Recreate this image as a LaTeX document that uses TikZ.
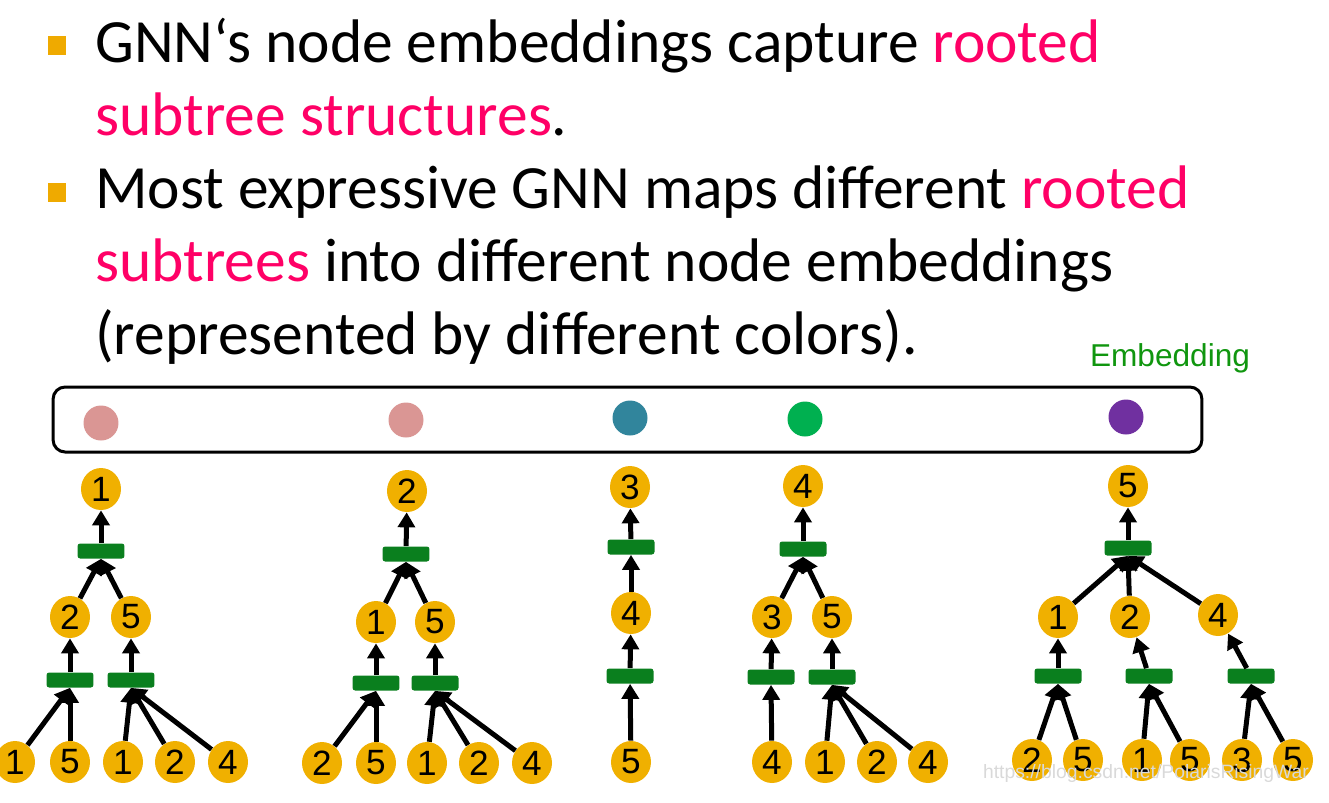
\documentclass[tikz,border=0pt]{standalone}
\usepackage{fontspec}
\setmainfont{Carlito}
\newfontfamily\arialfont{Liberation Sans}
\usetikzlibrary{arrows.meta, positioning, shapes.geometric}
\definecolor{gold}{HTML}{F0B000}
\definecolor{aggreen}{HTML}{0A7F1E}
\definecolor{hotpink}{HTML}{FF0066}
\definecolor{bulletc}{HTML}{EFAA00}
\definecolor{embgreen}{HTML}{10960F}
\definecolor{epink}{HTML}{DA9694}
\definecolor{eteal}{HTML}{31859C}
\definecolor{egreen}{HTML}{00B050}
\definecolor{epurple}{HTML}{7030A0}
\tikzset{
  >=Latex,
  vert/.style={
    ellipse, fill=gold, minimum width=0.8cm, minimum height=0.84cm,
    inner sep=0pt, font=\arialfont\fontsize{20}{20}\selectfont
  },
  agg/.style={
    rectangle, fill=aggreen, rounded corners=1.5pt,
    minimum width=0.94cm, minimum height=0.3cm, inner sep=0pt
  },
  arr/.style={-{Triangle[length=0.3cm, width=0.34cm]}, line width=0.1cm},
  txtline/.style={anchor=base west, inner sep=0pt, font=\fontsize{35}{42}\selectfont},
  bul/.style={fill=bulletc, minimum size=0.38cm, inner sep=0pt},
  emb/.style={circle, fill=#1, minimum size=0.7cm, inner sep=0pt},
  lab/.style={font=\arialfont\fontsize{18}{18}\selectfont, text=#1}
}

\begin{document}
\begin{tikzpicture}[x=0.02cm, y=-0.02cm]
  \useasboundingbox (0,0) rectangle (1329,802);

  \node[bul] (b1) at (57,45) {};
  \node[bul] (b2) at (57,192) {};
  \node[txtline] (l1) at (95,62) {GNN‘s node embeddings capture {\color{hotpink}rooted}};
  \node[txtline] (l2) at (95,135) {{\color{hotpink}subtree structures}.};
  \node[txtline] (l3) at (95,208) {Most expressive GNN maps different {\color{hotpink}rooted}};
  \node[txtline] (l4) at (95,281) {{\color{hotpink}subtrees} into different node embeddings};
  \node[txtline] (l5) at (95,354) {(represented by different colors).};

  \node[lab=embgreen] (embtitle) at (1170,358) {Embedding};
  \node[draw, line width=0.06cm, rounded corners=0.24cm, minimum width=22.98cm,
        minimum height=1.3cm, inner sep=0pt] (embbox) at (627.5,419.5) {};
  \foreach \n/\x/\y/\c in {e1/101/423/epink, e2/406/420/epink, e3/630/418/eteal,
                           e4/805/419/egreen, e5/1126/417/epurple}
    \node[emb=\c] (\n) at (\x,\y) {};

  % subtree of node 1
  \node[vert] (a0) at (101,489) {1};
  \node[agg] (a0m) at (101,551) {};
  \node[vert] (a1) at (70,617) {2};
  \node[vert] (a2) at (131,617) {5};
  \node[agg] (a1m) at (70,680) {};
  \node[agg] (a2m) at (131,680) {};
  \draw[arr] (a0m) -- (a0);
  \draw[arr] (a1) -- (a0m.south);
  \draw[arr] (a2) -- (a0m.south);
  \draw[arr] (a1m) -- (a1);
  \draw[arr] (a2m) -- (a2);
  \foreach \n/\x/\l/\p in {a11/15/1/a1m, a12/70/5/a1m, a21/123/1/a2m, a22/175/2/a2m, a23/228/4/a2m} {
    \node[vert] (\n) at (\x,762) {\l};
    \draw[arr] (\n) -- (\p.south);
  }

  % subtree of node 2
  \node[vert] (b0) at (407,491) {2};
  \node[agg] (b0m) at (406,554) {};
  \node[vert] (bb1) at (376,622) {1};
  \node[vert] (bb2) at (435,622) {5};
  \node[agg] (b1m) at (376,683) {};
  \node[agg] (b2m) at (435,683) {};
  \draw[arr] (b0m) -- (b0);
  \draw[arr] (bb1) -- (b0m.south);
  \draw[arr] (bb2) -- (b0m.south);
  \draw[arr] (b1m) -- (bb1);
  \draw[arr] (b2m) -- (bb2);
  \foreach \n/\x/\l/\p in {b11/322/2/b1m, b12/376/5/b1m, b21/427/1/b2m, b22/479/2/b2m, b23/532/4/b2m} {
    \node[vert] (\n) at (\x,763) {\l};
    \draw[arr] (\n) -- (\p.south);
  }

  % subtree of node 3
  \node[vert] (c0) at (630,487) {3};
  \node[agg] (c0m) at (631,547) {};
  \node[vert] (c1) at (631,613) {4};
  \node[agg] (c1m) at (630,676) {};
  \node[vert] (c11) at (631,762) {5};
  \draw[arr] (c0m) -- (c0);
  \draw[arr] (c1) -- (c0m);
  \draw[arr] (c1m) -- (c1);
  \draw[arr] (c11) -- (c1m);

  % subtree of node 4
  \node[vert] (d0) at (803,486) {4};
  \node[agg] (d0m) at (803,549) {};
  \node[vert] (d1) at (772,617) {3};
  \node[vert] (d2) at (832,617) {5};
  \node[agg] (d1m) at (771,677) {};
  \node[agg] (d2m) at (832,677) {};
  \draw[arr] (d0m) -- (d0);
  \draw[arr] (d1) -- (d0m.south);
  \draw[arr] (d2) -- (d0m.south);
  \draw[arr] (d1m) -- (d1);
  \draw[arr] (d2m) -- (d2);
  \foreach \n/\x/\l/\p in {d11/772/4/d1m, d21/825/1/d2m, d22/877/2/d2m, d23/928/4/d2m} {
    \node[vert] (\n) at (\x,762) {\l};
    \draw[arr] (\n) -- (\p.south);
  }

  % subtree of node 5
  \node[vert] (f0) at (1128,486) {5};
  \node[agg] (f0m) at (1128,548) {};
  \node[vert] (f1) at (1058,617) {1};
  \node[vert] (f2) at (1130,617) {2};
  \node[vert] (f3) at (1218,615) {4};
  \node[agg] (f1m) at (1058,676) {};
  \node[agg] (f2m) at (1149,676) {};
  \node[agg] (f3m) at (1251,676) {};
  \draw[arr] (f0m) -- (f0);
  \foreach \n in {f1, f2, f3}
    \draw[arr] (\n) -- (f0m.south);
  \foreach \n in {f1, f2, f3}
    \draw[arr] (\n m) -- (\n);
  \foreach \n/\x/\l/\p in {f11/1032/2/f1m, f12/1083/5/f1m, f21/1142/1/f2m, f22/1190/5/f2m,
                           f31/1242/3/f3m, f32/1293/5/f3m} {
    \node[vert] (\n) at (\x,760) {\l};
    \draw[arr] (\n) -- (\p.south);
  }

  \node[text=gray!30, font=\arialfont\fontsize{11}{11}\selectfont] (wm) at (1146,773)
    {https://blog.csdn.net/PolarisRisingWar};
\end{tikzpicture}
\end{document}
